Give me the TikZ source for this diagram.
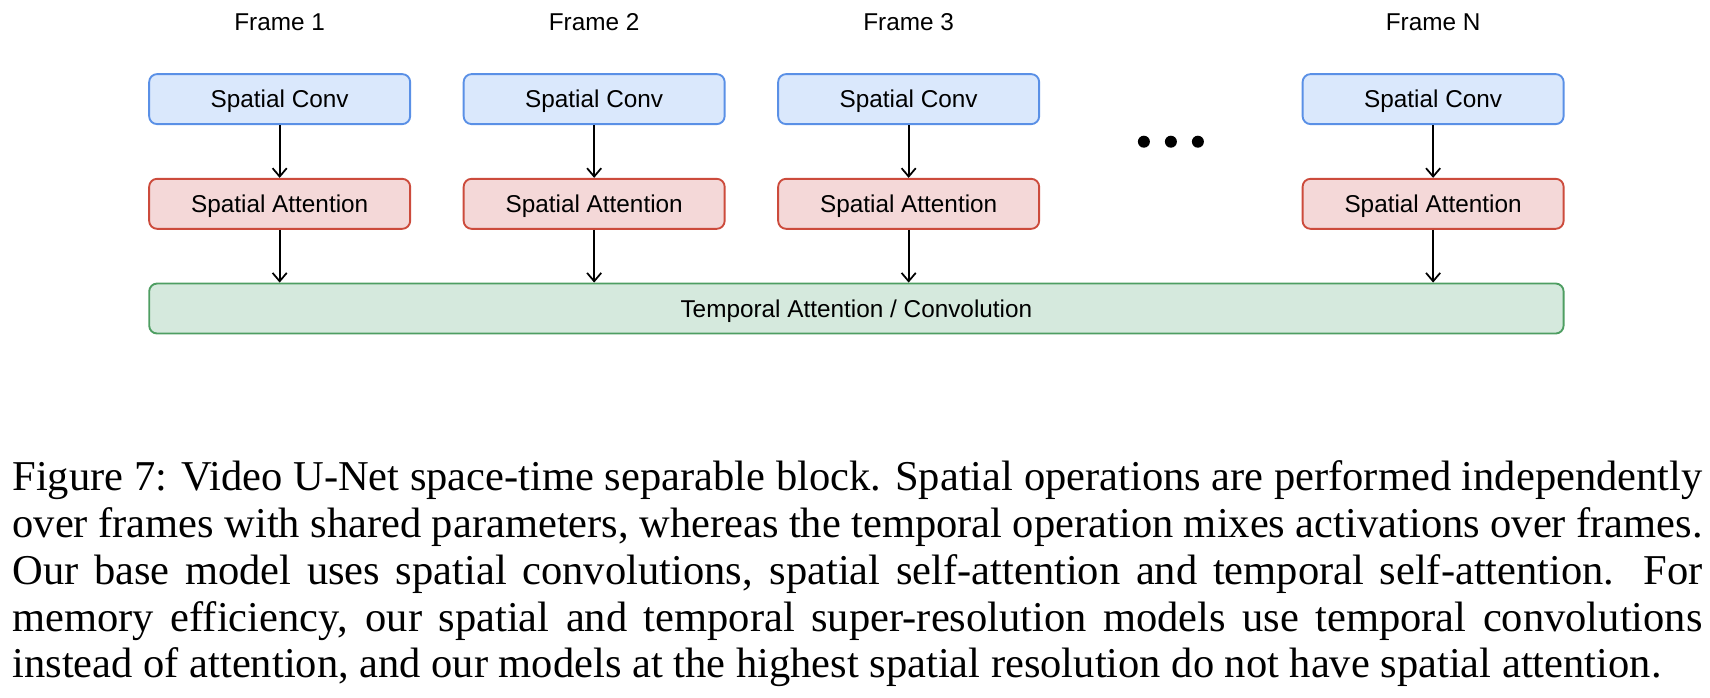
\documentclass[tikz,border=0pt]{standalone}
\usepackage{fontspec}
\setmainfont{Liberation Serif}
\newfontfamily\diagfont{Liberation Sans}
\usetikzlibrary{positioning, calc, arrows.meta}

\definecolor{convfill}{HTML}{DAE8FC}
\definecolor{convline}{HTML}{5A90E6}
\definecolor{attnfill}{HTML}{F4D8D8}
\definecolor{attnline}{HTML}{CC4B3C}
\definecolor{tempfill}{HTML}{D5E9DD}
\definecolor{templine}{HTML}{4E9E62}

\tikzset{
  blk/.style={rounded corners=1.9pt, line width=0.45pt, minimum width=62.64pt, minimum height=12pt,
    inner sep=0pt, text height=4.18pt, text depth=0pt},
  conv/.style={blk, draw=convline, fill=convfill},
  attn/.style={blk, draw=attnline, fill=attnfill},
  temporal/.style={blk, draw=templine, fill=tempfill},
  framelabel/.style={inner sep=0pt, text height=4.18pt, text depth=0pt},
  flow/.style={->, line width=0.42pt},
}

\begin{document}
\begin{tikzpicture}[>={Straight Barb[length=2pt, width=3.4pt]}, font=\diagfont\fontsize{5.84pt}{7pt}\selectfont]
    \useasboundingbox (0,0) rectangle (410.4pt,-167.52pt);

    \node[matrix, anchor=north west, inner sep=0pt, column sep={12.39pt}, row sep=0pt,
      nodes={anchor=center}] (block) at (35.375pt,-3.02pt)
    {
        \node[framelabel] (f1) {Frame 1}; & \node[framelabel] (f2) {Frame 2}; & \node[framelabel] (f3) {Frame 3}; & \node[framelabel, minimum width=38pt] (gap) {}; & \node[framelabel] (fn) {Frame N}; \\[10.165pt]
        \node[conv] (c1) {Spatial Conv}; & \node[conv] (c2) {Spatial Conv}; & \node[conv] (c3) {Spatial Conv}; & & \node[conv] (cn) {Spatial Conv}; \\[12.68pt]
        \node[attn] (a1) {Spatial Attention}; & \node[attn] (a2) {Spatial Attention}; & \node[attn] (a3) {Spatial Attention}; & & \node[attn] (an) {Spatial Attention}; \\[12.905pt]
        \node[blk] (z1) {}; & & & & \node[blk] (z5) {}; \\
    };

    \node[temporal, minimum width=339.46pt] (tmp) at ($(z1)!0.5!(z5)$) {Temporal Attention / Convolution};

    \foreach \i in {1,2,3,n} {
        \draw[flow] (c\i) -- (a\i);
        \draw[flow] (a\i) -- (a\i |- tmp.north);
    }

    % dots between frame 3 and frame N
    \foreach \dx in {-6.48pt,0pt,6.48pt}
        \fill ($(gap |- c1.south)+(\dx,-4pt)$) circle (1.44pt);

    \node[anchor=north west, inner sep=0pt, text width=405.6pt, align=justify,
      font=\rmfamily\fontsize{10.2pt}{11.23pt}\selectfont] (caption) at (2.81pt,-110.39pt)
    {Figure 7: Video U-Net space-time separable block. Spatial operations are performed independently\linebreak
     over frames with shared parameters, whereas the temporal operation mixes activations over frames.\linebreak
     Our base model uses spatial convolutions, spatial self-attention and temporal self-attention. For\linebreak
     memory efficiency, our spatial and temporal super-resolution models use temporal convolutions\linebreak
     instead of attention, and our models at the highest spatial resolution do not have spatial attention.};
\end{tikzpicture}
\end{document}
